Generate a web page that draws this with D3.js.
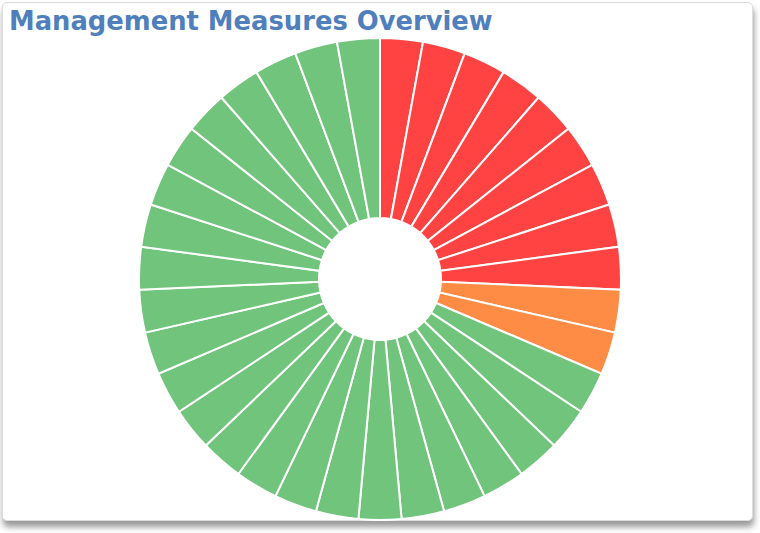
<!DOCTYPE html>
<html>
<head>
<meta charset="utf-8">
<script src="https://cdn.jsdelivr.net/npm/d3@7"></script>
<style>
  html, body { margin: 0; padding: 0; background: #fff; }
  .card {
    position: absolute; left: 2px; top: 2px; width: 749px; height: 517px;
    border: 1px solid #dcdcdc; border-radius: 5px; background: #fff;
    box-shadow: 1px 6px 6px rgba(0,0,0,0.4);
  }
  svg { position: absolute; left: 0; top: 0; }
</style>
</head>
<body>
<div class="card"></div>
<svg width="760" height="533"></svg>
<script>
// measures and their status
var statuses = ["red", "orange", "green"];
var statusCounts = [9, 2, 24];
var statusColors = ["#ff4343", "#ff8c45", "#70c47b"];

var measures = [];
statuses.forEach(function(s, i) {
    for (var k = 0; k < statusCounts[i]; k++) measures.push({status: s, value: 1});
});

var svg = d3.select("svg");
var cx = 380, cy = 279;

var color = d3.scaleOrdinal().domain(statuses).range(statusColors);

var pie = d3.pie().sort(null).value(function(d) { return d.value; });
var arc = d3.arc().innerRadius(61).outerRadius(241);

svg.append("g")
    .attr("transform", "translate(" + cx + "," + cy + ")")
  .selectAll("path")
  .data(pie(measures))
  .enter().append("path")
    .attr("d", arc)
    .attr("fill", function(d) { return color(d.data.status); })
    .attr("stroke", "#fff")
    .attr("stroke-width", 2);

svg.append("text")
    .attr("x", 9)
    .attr("y", 30)
    .attr("font-family", "DejaVu Sans")
    .attr("font-weight", "bold")
    .attr("font-size", 25.8)
    .attr("fill", "#4f7fbc")
    .text("Management Measures Overview");
</script>
</body>
</html>
